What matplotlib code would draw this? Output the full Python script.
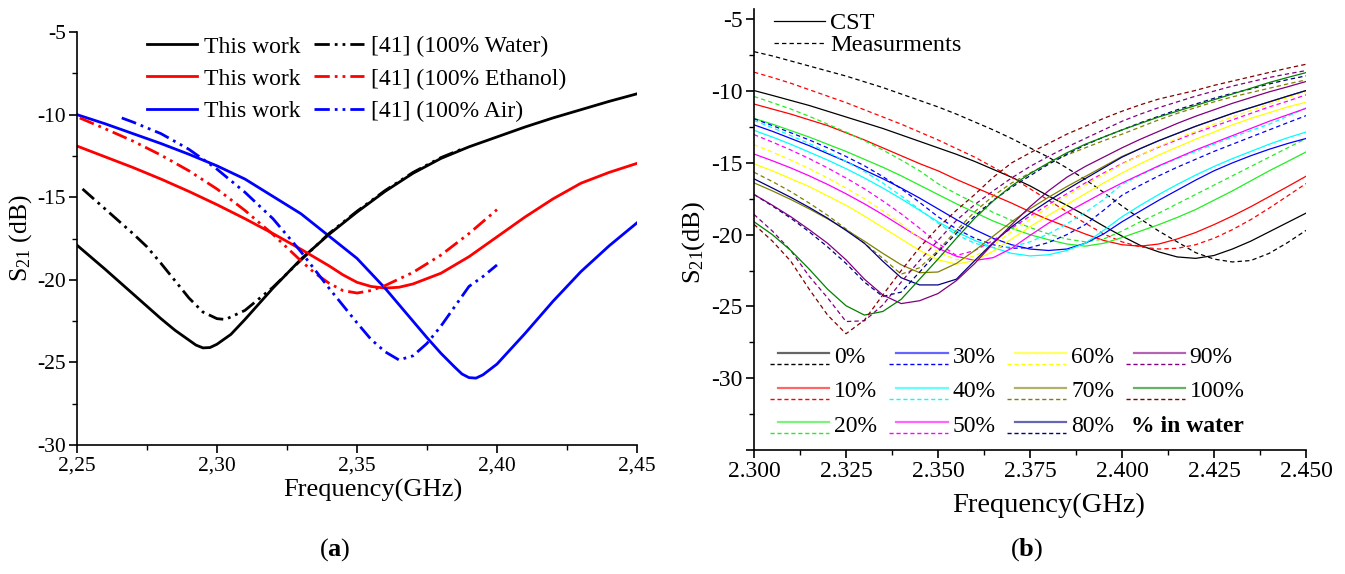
import matplotlib
matplotlib.use('agg')
import matplotlib.pyplot as plt
from matplotlib.lines import Line2D
from matplotlib.legend_handler import HandlerBase
from matplotlib.ticker import MultipleLocator, FuncFormatter

plt.rcParams['font.family'] = ['Liberation Serif', 'DejaVu Serif']
plt.rcParams['mathtext.fontset'] = 'custom'
plt.rcParams['mathtext.rm'] = 'Liberation Serif'
plt.rcParams['mathtext.it'] = 'Liberation Serif:italic'
plt.rcParams['mathtext.bf'] = 'Liberation Serif:bold'

# ---- panel (a): this work vs [41] ----
fa_work = [2.250, 2.260, 2.270, 2.280, 2.285, 2.290, 2.2925, 2.295, 2.2975, 2.300, 2.305, 2.310, 2.315,
           2.320, 2.330, 2.340, 2.350, 2.360, 2.370, 2.380, 2.390, 2.400, 2.410, 2.420, 2.430, 2.440, 2.450]
work_water = [-17.9, -19.35, -20.85, -22.35, -23.05, -23.65, -23.95, -24.12, -24.1, -23.9, -23.3, -22.4, -21.45,
              -20.5, -18.75, -17.25, -15.9, -14.65, -13.55, -12.65, -11.95, -11.35, -10.75, -10.2, -9.7, -9.2,
              -8.74]

fa_work2 = [2.250, 2.260, 2.270, 2.280, 2.290, 2.300, 2.310, 2.320, 2.330, 2.340, 2.345, 2.350, 2.355,
            2.360, 2.365, 2.370, 2.380, 2.390, 2.400, 2.410, 2.420, 2.430, 2.440, 2.450]
work_ethanol = [-11.9, -12.55, -13.2, -13.9, -14.65, -15.45, -16.3, -17.2, -18.15, -19.15, -19.7, -20.15, -20.4,
                -20.5, -20.45, -20.25, -19.6, -18.6, -17.4, -16.2, -15.1, -14.15, -13.5, -12.95]

fa_work3 = [2.250, 2.260, 2.270, 2.280, 2.290, 2.300, 2.310, 2.320, 2.330, 2.340, 2.350, 2.360, 2.370,
            2.375, 2.380, 2.385, 2.3875, 2.390, 2.3925, 2.395, 2.400, 2.410, 2.420, 2.430, 2.440, 2.450]
work_air = [-10.0, -10.55, -11.15, -11.75, -12.4, -13.1, -13.9, -14.95, -16.0, -17.35, -18.7, -20.5, -22.5,
            -23.5, -24.45, -25.3, -25.7, -25.92, -25.95, -25.75, -25.1, -23.25, -21.3, -19.5, -17.95, -16.55]

fa_ref_water = [2.252, 2.260, 2.270, 2.275, 2.280, 2.290, 2.295, 2.300, 2.303, 2.310, 2.320, 2.330,
                2.340, 2.350, 2.360, 2.370, 2.380, 2.388]
ref_water = [-14.5, -15.7, -17.2, -18.0, -19.0, -21.1, -21.95, -22.35, -22.4, -21.85, -20.45, -18.8,
             -17.2, -15.85, -14.6, -13.5, -12.6, -12.05]

fa_ref_ethanol = [2.251, 2.260, 2.270, 2.280, 2.290, 2.300, 2.310, 2.320, 2.330, 2.335, 2.340, 2.345,
                  2.350, 2.355, 2.360, 2.370, 2.380, 2.390, 2.400]
ref_ethanol = [-10.2, -10.85, -11.6, -12.45, -13.4, -14.5, -15.8, -17.25, -18.85, -19.6, -20.2, -20.65,
               -20.8, -20.65, -20.35, -19.55, -18.5, -17.2, -15.75]

fa_ref_air = [2.266, 2.270, 2.280, 2.290, 2.300, 2.310, 2.320, 2.330, 2.340, 2.350, 2.355, 2.360,
              2.365, 2.370, 2.375, 2.380, 2.385, 2.390, 2.395, 2.400]
ref_air = [-10.2, -10.45, -11.15, -12.1, -13.3, -14.7, -16.3, -18.3, -20.5, -22.6, -23.6, -24.35,
           -24.85, -24.6, -23.85, -22.8, -21.6, -20.4, -19.8, -19.1]

# ---- panel (b): CST vs measurement, % in water ----
freq_b = [2.300, 2.305, 2.310, 2.315, 2.320, 2.325, 2.330, 2.335, 2.340, 2.345, 2.350,
          2.355, 2.360, 2.365, 2.370, 2.375, 2.380, 2.385, 2.390, 2.395, 2.400,
          2.405, 2.410, 2.415, 2.420, 2.425, 2.430, 2.435, 2.440, 2.445, 2.450]

cst_0 = [-9.96, -10.3, -10.65, -11.0, -11.4, -11.8, -12.2, -12.6, -13.05, -13.5, -13.95, -14.4, -14.9, -15.45,
         -16.0, -16.6, -17.3, -17.95, -18.65, -19.4, -20.1, -20.75, -21.2, -21.55, -21.65, -21.45, -21.0,
         -20.45, -19.8, -19.15, -18.5]
meas_0 = [-7.25, -7.55, -7.9, -8.25, -8.6, -8.95, -9.35, -9.75, -10.2, -10.65, -11.1, -11.6, -12.15, -12.7,
          -13.3, -13.95, -14.6, -15.35, -16.15, -17.05, -18.0, -18.9, -19.75, -20.5, -21.25, -21.7, -21.9,
          -21.8, -21.3, -20.55, -19.7]
cst_10 = [-10.9, -11.25, -11.6, -12.0, -12.4, -12.9, -13.4, -13.95, -14.5, -15.05, -15.55, -16.15, -16.7,
          -17.25, -17.8, -18.4, -18.95, -19.45, -19.95, -20.4, -20.7, -20.8, -20.65, -20.3, -19.85, -19.3,
          -18.7, -18.05, -17.35, -16.65, -15.93]
meas_10 = [-8.68, -9.05, -9.45, -9.9, -10.35, -10.8, -11.3, -11.8, -12.3, -12.85, -13.4, -14.0, -14.6, -15.3,
           -16.0, -16.8, -17.6, -18.4, -19.2, -19.95, -20.5, -20.85, -21.0, -20.95, -20.7, -20.25, -19.65,
           -18.95, -18.15, -17.3, -16.44]
cst_20 = [-11.9, -12.3, -12.75, -13.2, -13.7, -14.2, -14.75, -15.3, -15.9, -16.55, -17.2, -17.85, -18.45,
          -19.05, -19.55, -20.0, -20.35, -20.65, -20.8, -20.6, -20.2, -19.75, -19.3, -18.8, -18.25, -17.6,
          -16.95, -16.25, -15.55, -14.9, -14.24]
meas_20 = [-10.37, -10.8, -11.25, -11.75, -12.3, -12.85, -13.45, -14.1, -14.8, -15.55, -16.45, -17.15, -17.8,
           -18.45, -19.0, -19.5, -19.95, -20.3, -20.5, -20.3, -19.75, -19.1, -18.5, -17.85, -17.2, -16.55,
           -15.9, -15.25, -14.6, -13.95, -13.31]
cst_30 = [-12.35, -12.8, -13.3, -13.8, -14.35, -14.9, -15.5, -16.1, -16.75, -17.45, -18.2, -18.95, -19.65,
          -20.25, -20.7, -21.0, -21.1, -21.0, -20.6, -19.95, -19.1, -18.35, -17.6, -16.9, -16.2, -15.55,
          -15.0, -14.5, -14.05, -13.65, -13.3]
meas_30 = [-11.92, -12.4, -12.9, -13.4, -13.95, -14.55, -15.2, -15.95, -16.8, -17.75, -18.75, -19.6, -20.25,
           -20.7, -20.95, -20.9, -20.55, -20.0, -19.3, -18.3, -17.25, -16.55, -15.9, -15.3, -14.75, -14.2,
           -13.7, -13.2, -12.7, -12.2, -11.71]
cst_40 = [-12.73, -13.2, -13.7, -14.25, -14.8, -15.4, -16.05, -16.75, -17.5, -18.3, -19.1, -19.8, -20.4,
          -20.9, -21.3, -21.48, -21.4, -21.1, -20.6, -19.7, -18.75, -17.95, -17.2, -16.5, -15.85, -15.25,
          -14.7, -14.2, -13.7, -13.25, -12.85]
meas_40 = [-12.04, -12.55, -13.1, -13.65, -14.25, -14.9, -15.6, -16.4, -17.3, -18.25, -19.2, -20.0, -20.6,
           -20.9, -20.85, -20.5, -19.95, -19.25, -18.45, -17.55, -16.5, -15.85, -15.25, -14.7, -14.2, -13.7,
           -13.2, -12.75, -12.3, -11.75, -11.18]
cst_50 = [-14.38, -14.85, -15.35, -15.9, -16.5, -17.15, -17.85, -18.6, -19.4, -20.2, -20.95, -21.5, -21.8,
          -21.6, -20.95, -20.05, -19.2, -18.45, -17.75, -17.05, -16.4, -15.8, -15.2, -14.65, -14.1, -13.6,
          -13.1, -12.6, -12.1, -11.65, -11.2]
meas_50 = [-13.03, -13.55, -14.1, -14.7, -15.35, -16.05, -16.8, -17.65, -18.55, -19.55, -20.6, -21.45, -21.1,
           -20.4, -19.55, -18.7, -17.9, -17.15, -16.4, -15.7, -15.05, -14.45, -13.9, -13.4, -12.9, -12.45,
           -12.0, -11.55, -11.1, -10.7, -10.26]
cst_60 = [-15.07, -15.55, -16.1, -16.65, -17.3, -17.95, -18.7, -19.5, -20.3, -21.1, -21.75, -22.05, -21.8,
          -21.15, -20.3, -19.45, -18.65, -17.9, -17.15, -16.4, -15.7, -15.05, -14.45, -13.9, -13.35, -12.85,
          -12.35, -11.9, -11.5, -11.1, -10.77]
meas_60 = [-13.73, -14.25, -14.8, -15.4, -16.05, -16.75, -17.5, -18.35, -19.25, -20.25, -21.2, -21.75, -21.5,
           -20.7, -19.8, -18.95, -18.1, -17.3, -16.55, -15.8, -15.1, -14.45, -13.85, -13.3, -12.8, -12.3,
           -11.8, -11.35, -10.9, -10.45, -10.03]
cst_70 = [-16.39, -16.95, -17.55, -18.2, -18.9, -19.65, -20.45, -21.3, -22.1, -22.65, -22.6, -22.0, -21.1,
          -20.1, -19.1, -18.2, -17.4, -16.65, -15.95, -15.25, -14.55, -14.0, -13.45, -12.95, -12.45, -12.0,
          -11.55, -11.15, -10.75, -10.35, -9.96]
meas_70 = [-15.65, -16.3, -17.0, -17.8, -18.65, -19.6, -20.6, -21.65, -22.75, -22.3, -21.1, -19.7, -18.4,
           -17.3, -16.4, -15.7, -15.05, -14.45, -13.95, -13.45, -13.0, -12.5, -12.0, -11.55, -11.15, -10.75,
           -10.4, -10.1, -9.8, -9.5, -9.22]
cst_80 = [-16.11, -16.75, -17.4, -18.1, -18.85, -19.7, -20.6, -21.85, -23.0, -23.5, -23.5, -23.1, -21.8,
          -20.55, -19.45, -18.5, -17.65, -16.85, -16.1, -15.35, -14.6, -14.0, -13.45, -12.95, -12.45, -12.0,
          -11.55, -11.15, -10.75, -10.35, -9.96]
meas_80 = [-17.2, -18.0, -18.85, -19.8, -20.85, -22.0, -23.3, -24.3, -24.0, -22.6, -21.2, -19.9, -18.7,
           -17.6, -16.7, -15.9, -15.1, -14.4, -13.75, -13.2, -12.7, -12.2, -11.75, -11.3, -10.9, -10.5,
           -10.15, -9.85, -9.5, -9.2, -8.94]
cst_90 = [-17.2, -17.95, -18.75, -19.65, -20.6, -21.75, -23.1, -24.2, -24.8, -24.6, -24.1, -23.2, -22.0,
          -20.6, -19.3, -18.05, -16.95, -16.0, -15.25, -14.6, -13.95, -13.35, -12.8, -12.25, -11.75, -11.3,
          -10.85, -10.45, -10.05, -9.7, -9.33]
meas_90 = [-18.59, -19.75, -21.1, -22.9, -24.4, -26.05, -26.0, -24.9, -23.3, -21.8, -20.4, -19.0, -17.9,
           -16.95, -16.05, -15.25, -14.55, -13.9, -13.3, -12.7, -12.1, -11.6, -11.15, -10.75, -10.35, -10.0,
           -9.65, -9.35, -9.05, -8.8, -8.57]
cst_100 = [-19.1, -20.0, -21.1, -22.4, -23.8, -24.95, -25.6, -25.35, -24.5, -23.1, -21.7, -20.25, -18.85,
           -17.65, -16.6, -15.75, -15.0, -14.3, -13.7, -13.2, -12.7, -12.25, -11.8, -11.4, -11.0, -10.6,
           -10.2, -9.8, -9.4, -9.05, -8.71]
meas_100 = [-19.28, -20.45, -21.85, -23.8, -25.6, -26.9, -25.95, -24.2, -22.5, -20.9, -19.5, -18.3, -17.2,
            -16.0, -15.0, -14.3, -13.65, -13.0, -12.45, -11.9, -11.4, -10.95, -10.55, -10.25, -9.95, -9.6,
            -9.3, -9.0, -8.7, -8.4, -8.13]

pct_labels = ['0%', '10%', '20%', '30%', '40%', '50%', '60%', '70%', '80%', '90%', '100%']
cst_curves = [cst_0, cst_10, cst_20, cst_30, cst_40, cst_50, cst_60, cst_70, cst_80, cst_90, cst_100]
meas_curves = [meas_0, meas_10, meas_20, meas_30, meas_40, meas_50, meas_60, meas_70, meas_80, meas_90, meas_100]
cst_colors = ['black', 'red', '#22ee22', 'blue', 'cyan', 'magenta', 'yellow', '#808000', '#000080', '#800080', '#008000']
meas_colors = ['black', 'red', '#22ee22', 'blue', 'cyan', 'magenta', 'yellow', '#808000', '#000080', '#800080', '#800000']


class PairHandler(HandlerBase):
    # solid (CST) line on top, dashed (measured) line underneath
    def create_artists(self, legend, orig_handle, xdescent, ydescent, width, height, fontsize, trans):
        solid, dashed = orig_handle
        x0, y0 = -xdescent, -ydescent
        a = Line2D([x0 + 0.13 * width, x0 + width], [y0 + 0.55 * height] * 2,
                   color=solid.get_color(), lw=1.6, alpha=0.6, transform=trans)
        b = Line2D([x0, x0 + width], [y0 - 0.1 * height] * 2,
                   color=dashed.get_color(), lw=1.0, ls=(0, (3, 2)), transform=trans)
        return [a, b]


def style_axes(ax, fs):
    ax.spines[['top', 'right']].set_visible(False)
    for s in ['left', 'bottom']:
        ax.spines[s].set_linewidth(1.2)
    ax.tick_params(which='major', direction='out', length=6, width=1.2, labelsize=fs, pad=2)
    ax.tick_params(which='minor', direction='out', length=3.5, width=1.0)


fig = plt.figure(figsize=(13.45, 5.74), dpi=100)

# ---------------- (a) ----------------
ax1 = fig.add_axes([0.0572, 0.2247, 0.4164, 0.7195])
ddot = (0, (5.5, 1.8, 1, 1.8, 1, 1.8))
h1, = ax1.plot(fa_work, work_water, color='black', lw=2)
h2, = ax1.plot(fa_work2, work_ethanol, color='red', lw=2)
h3, = ax1.plot(fa_work3, work_air, color='blue', lw=2)
h4, = ax1.plot(fa_ref_water, ref_water, color='black', lw=2, ls=ddot)
h5, = ax1.plot(fa_ref_ethanol, ref_ethanol, color='red', lw=2, ls=ddot)
h6, = ax1.plot(fa_ref_air, ref_air, color='blue', lw=2, ls=ddot)

ax1.set_xlim(2.25, 2.45)
ax1.set_ylim(-30, -5)
ax1.xaxis.set_major_locator(MultipleLocator(0.05))
ax1.xaxis.set_minor_locator(MultipleLocator(0.025))
ax1.yaxis.set_major_locator(MultipleLocator(5))
ax1.yaxis.set_minor_locator(MultipleLocator(2.5))
ax1.xaxis.set_major_formatter(FuncFormatter(lambda v, p: f'{v:.2f}'.replace('.', ',')))
ax1.yaxis.set_major_formatter(FuncFormatter(lambda v, p: f'{v:.0f}'))
style_axes(ax1, 15.5)
ax1.set_xlabel('Frequency(GHz)', fontsize=19, va='center')
ax1.xaxis.set_label_coords(0.529, -0.109)
ax1.set_ylabel(r'$\mathrm{S}_{21}$ (dB)', fontsize=18.5, va='center')
ax1.yaxis.set_label_coords(-0.1, 0.5)

ax1.legend([h1, h2, h3, h4, h5, h6],
           ['This work', 'This work', 'This work',
            '[41] (100% Water)', '[41] (100% Ethanol)', '[41] (100% Air)'],
           ncol=2, frameon=False, fontsize=17, loc='upper left',
           bbox_to_anchor=(147 / 1345, 1 - 36 / 574), bbox_transform=fig.transFigure,
           borderpad=0, borderaxespad=0, handlelength=2.1, handletextpad=0.3,
           labelspacing=0.45, columnspacing=0.6)

# ---------------- (b) ----------------
ax2 = fig.add_axes([0.5606, 0.2160, 0.4104, 0.7678])
pairs = []
for cst, meas, c1, c2 in zip(cst_curves, meas_curves, cst_colors, meas_colors):
    s, = ax2.plot(freq_b, cst, color=c1, lw=0.9)
    d, = ax2.plot(freq_b, meas, color=c2, lw=0.9, ls=(0, (3.5, 2.5)))
    pairs.append((s, d))

ax2.set_xlim(2.30, 2.45)
ax2.set_ylim(-35, -4.3)
ax2.xaxis.set_major_locator(MultipleLocator(0.025))
ax2.xaxis.set_minor_locator(MultipleLocator(0.0125))
ax2.yaxis.set_major_locator(MultipleLocator(5))
ax2.yaxis.set_minor_locator(MultipleLocator(2.5))
ax2.xaxis.set_major_formatter(FuncFormatter(lambda v, p: f'{v:.3f}'))
ax2.yaxis.set_major_formatter(FuncFormatter(lambda v, p: f'{v:.0f}' if -30 <= v <= -5 else ''))
style_axes(ax2, 17)
ax2.set_xlabel('Frequency(GHz)', fontsize=20.5, va='center')
ax2.xaxis.set_label_coords(0.533, -0.125)
ax2.set_ylabel(r'$\mathrm{S}_{21}$(dB)', fontsize=19, va='center')
ax2.yaxis.set_label_coords(-0.11, 0.47)

top_leg = ax2.legend([Line2D([], [], color='black', lw=0.9),
                      Line2D([], [], color='black', lw=0.9, ls=(0, (3.5, 2.5)))],
                     ['CST', 'Measurments'], frameon=False, fontsize=17.5, loc='upper left',
                     bbox_to_anchor=(774 / 1345, 1 - 12 / 574), bbox_transform=fig.transFigure,
                     borderpad=0, borderaxespad=0, handlelength=2.1, handletextpad=0.2,
                     labelspacing=0.0)
ax2.add_artist(top_leg)

ax2.legend(pairs, pct_labels, handler_map={tuple: PairHandler()}, ncol=4, frameon=False,
           fontsize=17, loc='upper left',
           bbox_to_anchor=(770 / 1345, 1 - 346 / 574), bbox_transform=fig.transFigure,
           borderpad=0, borderaxespad=0, handlelength=2.5, handletextpad=0.2,
           labelspacing=0.55, columnspacing=0.5)
fig.text(1131 / 1345, 1 - 426 / 574, '% in water', fontsize=17, fontweight='bold', va='center')

fig.text(335 / 1345, 1 - 550 / 574, r'($\mathbf{a}$)', fontsize=19, ha='center', va='center')
fig.text(1027 / 1345, 1 - 550 / 574, r'($\mathbf{b}$)', fontsize=19, ha='center', va='center')

fig.savefig('out.png', dpi=100)
